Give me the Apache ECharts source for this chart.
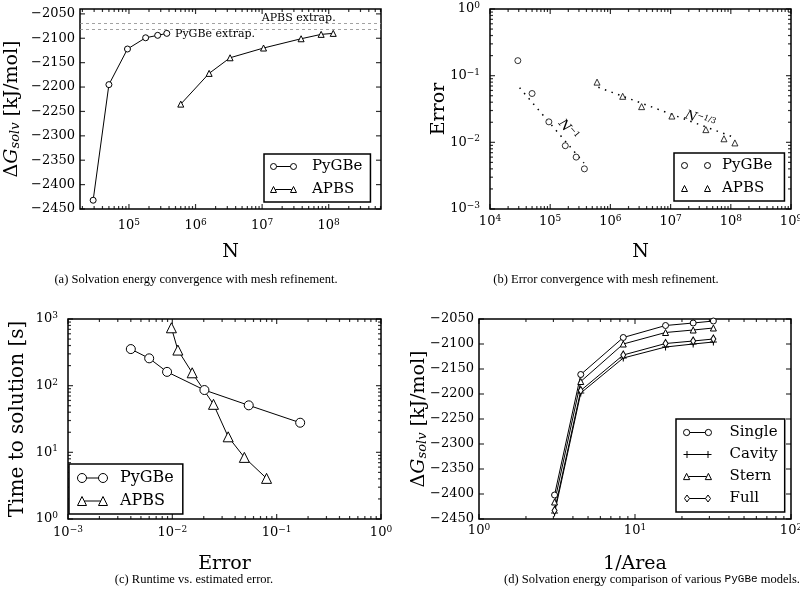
<!DOCTYPE html>
<html><head><meta charset="utf-8">
<script src="https://cdn.jsdelivr.net/npm/echarts@6/dist/echarts.min.js"></script>
<style>html,body{margin:0;padding:0;background:#fff}#c{width:800px;height:597px}</style>
</head><body><div id="c"></div><script>
// ===================== DATA =====================
// (a) solvation energy vs N
const pygbeN = [2.9e4, 5.0e4, 9.5e4, 1.78e5, 2.7e5, 3.7e5];
const apbsN = [6.0e5, 1.6e6, 3.3e6, 1.05e7, 3.85e7, 7.7e7, 1.17e8];
const pygbeEnergy = [-2432, -2195, -2122, -2099, -2094, -2090];
const apbsEnergy = [-2235, -2172, -2140, -2120, -2101, -2092, -2090];
const extrapNames = ['APBS extrap.', 'PyGBe extrap.'];
const extrapValues = [-2069, -2081];
const extrapLabelN = [3.54e7, 1.96e6];
const extrapLabelY = [-2059, -2092];
// (b) error vs N
const pygbeError = [0.168, 0.054, 0.0203, 0.0089, 0.0060, 0.0040];
const apbsError = [0.080, 0.049, 0.0343, 0.0248, 0.0155, 0.0113, 0.0098];
const pygbeFitN = [3.1e4, 3.64e5];
const pygbeFitError = [0.066, 0.0049];
const apbsFitN = [6.3e5, 1.1e8];
const apbsFitError = [0.067, 0.012];
const fitLabels = ['{n|N}{s|−1}', '{n|N}{s|−1/3}'];
const fitLabelN = [1.98e5, 3.08e7];
const fitLabelError = [0.0153, 0.0217];
const fitLabelRotate = [-49.5, -20];
// (c) time vs error
const pygbeTime = [27.8, 50.7, 86, 161, 257, 354];
const apbsTime = [4.07, 8.4, 17.1, 52.5, 156, 342, 738];
// (d) PyGBe models
const invArea = [3.05, 4.49, 8.41, 15.7, 23.6, 31.8];
const singleEnergy = [-2402, -2161, -2087, -2063, -2058, -2054];
const cavityEnergy = [-2438, -2198, -2128, -2106, -2100, -2096];
const sternEnergy = [-2416, -2175, -2100, -2077, -2072, -2068];
const fullEnergy = [-2433, -2193, -2122, -2099, -2094, -2090];
// axis ranges
const rangeAx = [1.84e4, 6.1e8], rangeAy = [-2450, -2040];
const rangeBx = [1e4, 1e9], rangeBy = [1e-3, 1];
const rangeCx = [1e-3, 1], rangeCy = [1, 1000];
const rangeDx = [1, 100], rangeDy = [-2450, -2050];
// tick labels
const ticksAx = [1e5, 1e6, 1e7, 1e8];
const ticksAy = [-2450, -2400, -2350, -2300, -2250, -2200, -2150, -2100, -2050];
const ticksBx = [1e4, 1e5, 1e6, 1e7, 1e8, 1e9];
const ticksBy = [1e-3, 1e-2, 1e-1, 1];
const ticksCx = [1e-3, 1e-2, 1e-1, 1];
const ticksCy = [1, 10, 100, 1000];
const ticksDx = [1, 10, 100];
const ticksDy = [-2450, -2400, -2350, -2300, -2250, -2200, -2150, -2100, -2050];
const captions = [
  '(a) Solvation energy convergence with mesh refinement.',
  '(b) Error convergence with mesh refinement.',
  '(c) Runtime vs. estimated error.',
  '(d) Solvation energy comparison of various {m|PyGBe} models.'
];

// ===================== HELPERS =====================
const FONT = "'DejaVu Serif', serif";
const zip = (a, b) => a.map((v, i) => [v, b[i]]);
// minor tick positions of a log axis (2..9 x 10^k) inside the range
function minorLog(r) {
  const out = [];
  for (let e = Math.floor(Math.log10(r[0])) - 1; e <= Math.ceil(Math.log10(r[1])); e++) {
    for (let k = 2; k <= 9; k++) {
      const v = parseFloat((k * Math.pow(10, e)).toPrecision(6));
      if (v > r[0] * 1.0001 && v < r[1] * 0.9999) out.push(v);
    }
  }
  return out;
}
const xAxes = [], yAxes = [];
function addAxis(list, g, dim, type, range, label, name) {
  const ax = Object.assign({type, gridIndex: g, min: range[0], max: range[1],
    position: dim === 'x' ? 'bottom' : 'left',
    axisLine: {show: false, onZero: false}, splitLine: {show: false}, axisTick: {show: false},
    minorTick: {show: false}, minorSplitLine: {show: false}, axisPointer: {show: false},
    axisLabel: label}, name);
  return list.push(ax) - 1;
}
function logLabel(margin, vals) {
  return {show: true, customValues: vals, margin, fontFamily: FONT, fontSize: 13, color: '#000',
    formatter: v => { const e = Math.round(Math.log10(v)); return '10{s|' + (e < 0 ? '−' + (-e) : e) + '}'; },
    rich: {s: {fontFamily: FONT, fontSize: 9, color: '#000', padding: [0, 0, 7, 0]}}};
}
function linLabel(margin, vals) {
  return {show: true, customValues: vals, margin, fontFamily: FONT, fontSize: 13, color: '#000',
    formatter: v => String(v).replace('-', '−')};
}
function axName(text, gap, size) {
  return {name: text, nameLocation: 'middle', nameGap: gap, nameMoveOverlap: false,
    nameTextStyle: {fontFamily: FONT, fontSize: size || 19, color: '#000'}};
}
function dgName(gap) {
  return {name: '{d|Δ}{g|G}{s|solv}{d| [kJ/mol]}', nameLocation: 'middle', nameGap: gap, nameMoveOverlap: false,
    nameTextStyle: {fontFamily: FONT, fontSize: 19, color: '#000', rich: {
      d: {fontFamily: FONT, fontSize: 19, color: '#000'},
      g: {fontFamily: FONT, fontSize: 19, fontStyle: 'italic', color: '#000'},
      s: {fontFamily: FONT, fontSize: 13, fontStyle: 'italic', color: '#000', padding: [7, 0, 0, 0]}
    }}};
}
// inward tick marks on all four sides, placed through the axes' own scales
function tickMarks(xi, yi, xr, yr, xMajor, xMinor, yMajor, yMinor) {
  const data = [];
  const add = (v, isX, atMax, len) => {
    data.push({
      value: isX ? [v, atMax ? yr[1] : yr[0]] : [atMax ? xr[1] : xr[0], v],
      symbolSize: isX ? [1.2, len] : [len, 1.2],
      symbolOffset: isX ? [0, atMax ? len / 2 : -len / 2] : [atMax ? -len / 2 : len / 2, 0]
    });
  };
  [false, true].forEach(atMax => {
    xMajor.forEach(v => add(v, true, atMax, 5));
    (xMinor || []).forEach(v => add(v, true, atMax, 3));
    yMajor.forEach(v => add(v, false, atMax, 5));
    (yMinor || []).forEach(v => add(v, false, atMax, 3));
  });
  return {type: 'scatter', name: '_ticks', xAxisIndex: xi, yAxisIndex: yi, data, symbol: 'rect',
    itemStyle: {color: '#000'}, clip: false, silent: true, z: 5, emphasis: {disabled: true}};
}
// legend icon paths
const circ = (cx, cy, r) => `M${cx - r},${cy} A${r},${r} 0 1 1 ${cx + r},${cy} A${r},${r} 0 1 1 ${cx - r},${cy} Z `;
const tri = (cx, cy, h) => `M${cx - h / 2},${cy + h / 2} L${cx},${cy - h / 2} L${cx + h / 2},${cy + h / 2} Z `;
const dia = (cx, cy, w, h) => `M${cx},${cy - h / 2} L${cx + w / 2},${cy} L${cx},${cy + h / 2} L${cx - w / 2},${cy} Z `;
const plus = (cx, cy, r) => `M${cx - r},${cy} L${cx + r},${cy} M${cx},${cy - r} L${cx},${cy + r} `;
const seg = (x1, x2, y) => `M${x1},${y} L${x2},${y} `;
const P = s => 'path://' + s.trim();

const markerStyle = {color: '#fff', borderColor: '#000', borderWidth: 1};
const lineStyle = {color: '#000', width: 1};

// ===================== AXES =====================
const xa = addAxis(xAxes, 0, 'x', 'log', rangeAx, logLabel(9, ticksAx), axName('N', 34));
const ya = addAxis(yAxes, 0, 'y', 'value', rangeAy, linLabel(5, ticksAy), dgName(58));
const xb = addAxis(xAxes, 1, 'x', 'log', rangeBx, logLabel(5, ticksBx), axName('N', 34));
const yb = addAxis(yAxes, 1, 'y', 'log', rangeBy, logLabel(10, ticksBy), axName('Error', 41));
const xc = addAxis(xAxes, 2, 'x', 'log', rangeCx, logLabel(6, ticksCx), axName('Error', 36));
const yc = addAxis(yAxes, 2, 'y', 'log', rangeCy, logLabel(10, ticksCy), axName('Time to solution [s]', 40, 20));
const xd = addAxis(xAxes, 3, 'x', 'log', rangeDx, logLabel(4, ticksDx), axName('1/Area', 36));
const yd = addAxis(yAxes, 3, 'y', 'value', rangeDy, linLabel(5, ticksDy), dgName(50));

// ===================== SERIES =====================
function lineSeries(name, xi, yi, xs, ys, symbol, size) {
  return {type: 'line', name, xAxisIndex: xi, yAxisIndex: yi, data: zip(xs, ys), symbol, symbolSize: size,
    showSymbol: true, lineStyle, itemStyle: markerStyle, z: 3, silent: true, emphasis: {disabled: true}};
}
const plusSym = 'path://M0,5 L10,5 M5,0 L5,10';
const series = [
  lineSeries('PyGBe', xa, ya, pygbeN, pygbeEnergy, 'circle', 6),
  lineSeries('APBS', xa, ya, apbsN, apbsEnergy, 'triangle', 6),
  {type: 'line', name: 'extrap', xAxisIndex: xa, yAxisIndex: ya, data: [], silent: true,
    markLine: {silent: true, symbol: ['none', 'none'], label: {show: false},
      lineStyle: {color: '#8a8a8a', width: 0.8, type: [3, 3]},
      data: extrapValues.map(v => ({yAxis: v}))},
    markPoint: {silent: true, symbol: 'rect', symbolSize: 1, itemStyle: {color: 'rgba(0,0,0,0)'},
      data: extrapNames.map((t, i) => ({coord: [extrapLabelN[i], extrapLabelY[i]],
        label: {show: true, position: 'inside', formatter: t, fontFamily: FONT, fontSize: 11, color: '#000'}}))}},
  {type: 'scatter', name: 'PyGBe', xAxisIndex: xb, yAxisIndex: yb, data: zip(pygbeN, pygbeError), symbol: 'circle', symbolSize: 6, itemStyle: markerStyle, z: 3, silent: true},
  {type: 'scatter', name: 'APBS', xAxisIndex: xb, yAxisIndex: yb, data: zip(apbsN, apbsError), symbol: 'triangle', symbolSize: 6, itemStyle: markerStyle, z: 3, silent: true},
  {type: 'line', name: 'fit1', xAxisIndex: xb, yAxisIndex: yb, data: zip(pygbeFitN, pygbeFitError), showSymbol: false, symbol: 'none', silent: true,
    lineStyle: {color: '#000', width: 1.5, type: [1.5, 5.5]}, z: 2},
  {type: 'line', name: 'fit2', xAxisIndex: xb, yAxisIndex: yb, data: zip(apbsFitN, apbsFitError), showSymbol: false, symbol: 'none', silent: true,
    lineStyle: {color: '#000', width: 1.5, type: [1.5, 5.5]}, z: 2,
    markPoint: {silent: true, symbol: 'rect', symbolSize: 1, itemStyle: {color: 'rgba(0,0,0,0)'},
      data: fitLabels.map((t, i) => ({coord: [fitLabelN[i], fitLabelError[i]],
        label: {show: true, position: 'inside', formatter: t, rotate: fitLabelRotate[i], fontFamily: FONT, fontSize: 12, color: '#000',
          rich: {n: {fontFamily: FONT, fontSize: 13, fontStyle: 'italic', color: '#000'},
                 s: {fontFamily: FONT, fontSize: 8, color: '#000', padding: [0, 0, 7, 0]}}}}))}},
  lineSeries('PyGBe', xc, yc, pygbeError, pygbeTime, 'circle', 9),
  lineSeries('APBS', xc, yc, apbsError, apbsTime, 'triangle', 10),
  lineSeries('Single', xd, yd, invArea, singleEnergy, 'circle', 6),
  Object.assign(lineSeries('Cavity', xd, yd, invArea, cavityEnergy, plusSym, 7), {itemStyle: {color: '#000', borderColor: '#000', borderWidth: 1}}),
  lineSeries('Stern', xd, yd, invArea, sternEnergy, 'triangle', 6),
  lineSeries('Full', xd, yd, invArea, fullEnergy, 'diamond', [5, 8]),
  // axis tick marks
  tickMarks(xa, ya, rangeAx, rangeAy, ticksAx, minorLog(rangeAx), ticksAy, null),
  tickMarks(xb, yb, rangeBx, rangeBy, ticksBx, minorLog(rangeBx), ticksBy, minorLog(rangeBy)),
  tickMarks(xc, yc, rangeCx, rangeCy, ticksCx, minorLog(rangeCx), ticksCy, minorLog(rangeCy)),
  tickMarks(xd, yd, rangeDx, rangeDy, ticksDx, minorLog(rangeDx), ticksDy, null)
];

// ===================== LEGENDS =====================
function legendBox(left, top, padding, gap, w, h, textPad, items, fs) {
  return {left, top, orient: 'vertical', selectedMode: false, backgroundColor: '#fff',
    borderColor: '#000', borderWidth: 1.5, borderRadius: 0, padding, itemGap: gap, itemWidth: w, itemHeight: h,
    textStyle: {fontFamily: FONT, fontSize: fs || 15, color: '#000', padding: [0, 0, 0, textPad]},
    itemStyle: {color: '#fff', borderColor: '#000', borderWidth: 1}, z: 10,
    data: items.map(([name, icon]) => ({name, icon: P(icon)}))};
}
const legends = [
  legendBox(264, 154, [5, 8, 5, 6], 8, 27, 6, 10, [
    ['PyGBe', circ(3.5, 3.5, 3) + seg(6.5, 20.5, 3.5) + circ(23.5, 3.5, 3)],
    ['APBS', tri(3.5, 3.5, 6) + seg(5.3, 21.7, 3.5) + tri(23.5, 3.5, 6)]]),
  legendBox(674, 153, [5, 12, 5, 7], 8, 30, 6, 6, [
    ['PyGBe', circ(3.5, 3.5, 3) + circ(26.5, 3.5, 3)],
    ['APBS', tri(3.5, 3.5, 6) + tri(26.5, 3.5, 6)]]),
  legendBox(69, 464, [6, 9, 5, 8], 7, 31, 9, 7, [
    ['PyGBe', circ(5, 5, 4.5) + seg(9.5, 21.5, 5) + circ(26, 5, 4.5)],
    ['APBS', tri(5, 5, 9) + seg(7.3, 23.7, 5) + tri(26, 5, 9)]], 16),
  legendBox(676, 419, [6, 7, 6, 7], 7, 28, 7, 13, [
    ['Single', circ(3.5, 3.5, 3) + seg(6.5, 21.5, 3.5) + circ(24.5, 3.5, 3)],
    ['Cavity', plus(3.5, 3.5, 3.5) + seg(3.5, 24.5, 3.5) + plus(24.5, 3.5, 3.5)],
    ['Stern', tri(3.5, 3.5, 6) + seg(5.3, 22.7, 3.5) + tri(24.5, 3.5, 6)],
    ['Full', dia(3.5, 3.5, 5, 7) + seg(6, 22, 3.5) + dia(24.5, 3.5, 5, 7)]])
];

// ===================== CAPTIONS =====================
const capPos = [[196, 273], [606, 273], [194, 573], [652, 573]];
const titles = captions.map((t, i) => ({text: t, left: capPos[i][0], top: capPos[i][1], textAlign: 'center', padding: 0,
  textStyle: {fontFamily: "'Liberation Serif', serif", fontSize: 12.5, fontWeight: 'normal', color: '#000',
    rich: {m: {fontFamily: "'Liberation Mono', 'DejaVu Sans Mono', monospace", fontSize: 11, color: '#000'}}}}));

const grids = [
  {left: 80, top: 9, width: 301, height: 200},
  {left: 490, top: 9, width: 301, height: 200},
  {left: 68, top: 319, width: 313, height: 200},
  {left: 479, top: 319, width: 312, height: 200}
].map(g => Object.assign(g, {show: true, borderColor: '#000', borderWidth: 1.5, backgroundColor: 'rgba(0,0,0,0)',
  containLabel: false, outerBoundsMode: 'none'}));

const chart = echarts.init(document.getElementById('c'), null, {renderer: 'canvas'});
chart.setOption({
  animation: false,
  backgroundColor: '#fff',
  title: titles,
  grid: grids,
  xAxis: xAxes,
  yAxis: yAxes,
  legend: legends,
  tooltip: {show: false},
  series
});
</script></body></html>
